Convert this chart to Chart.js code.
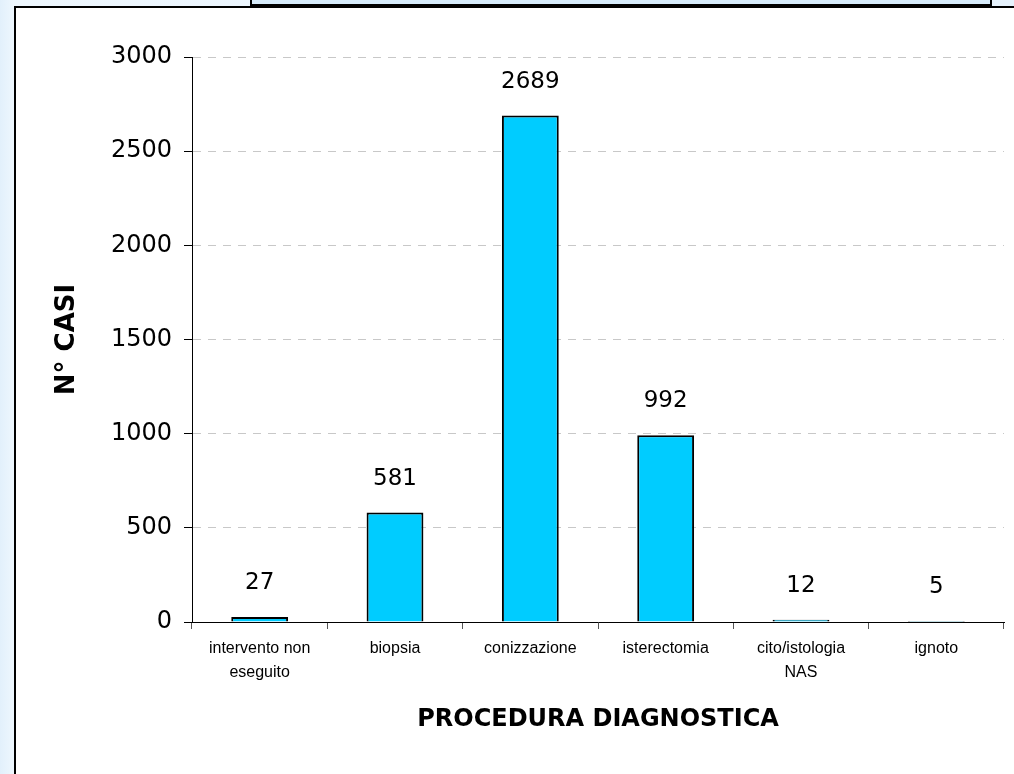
<!DOCTYPE html>
<html>
<head>
<meta charset="utf-8">
<script src="https://cdn.jsdelivr.net/npm/chart.js@4.4.1/dist/chart.umd.min.js"></script>
<style>
  html, body { margin: 0; padding: 0; }
  body { width: 1014px; height: 774px; position: relative; overflow: hidden;
         background: linear-gradient(to right, #e2f0fb, #eef7fe 14px, #e6f2fc); }
  #titlebox { position: absolute; left: 250px; top: -20px; width: 738px; height: 24px;
              border: 2px solid #000; border-top: none; background: #d6ebfa; }
  #panel { position: absolute; left: 14px; top: 6px; width: 1010px; height: 780px;
           border-left: 2px solid #000; border-top: 2px solid #000; background: #fff; }
  #wrap { position: absolute; left: 0; top: 0; width: 1014px; height: 774px; }
</style>
</head>
<body>
<div id="titlebox"></div>
<div id="panel"></div>
<div id="wrap"><canvas id="c" width="1014" height="774"></canvas></div>
<script>
const categories = [["intervento non", "eseguito"], "biopsia", "conizzazione", "isterectomia", ["cito/istologia", "NAS"], "ignoto"];
const casi = [27, 581, 2689, 992, 12, 5];
const yTicks = [0, 500, 1000, 1500, 2000, 2500, 3000];
const yTitle = "N° CASI";
const xTitle = "PROCEDURA DIAGNOSTICA";

const valueLabels = {
  id: 'valueLabels',
  afterDatasetsDraw(chart) {
    const ctx = chart.ctx;
    const meta = chart.getDatasetMeta(0);
    ctx.save();
    ctx.font = '23px "DejaVu Sans"';
    ctx.fillStyle = '#000';
    ctx.textAlign = 'center';
    ctx.textBaseline = 'middle';
    meta.data.forEach((el, i) => {
      ctx.fillText(String(casi[i]), el.x, el.y - 34);
    });
    ctx.restore();
  }
};

new Chart(document.getElementById('c'), {
  type: 'bar',
  data: {
    labels: categories,
    datasets: [{
      data: casi,
      backgroundColor: '#00ccff',
      borderColor: '#000',
      borderWidth: 2,
      borderSkipped: 'bottom',
      barPercentage: 0.42,
      categoryPercentage: 1.0
    }]
  },
  options: {
    responsive: false,
    animation: false,
    devicePixelRatio: 1,
    layout: { padding: { left: 0, right: 10, top: 57, bottom: 0 } },
    plugins: { legend: { display: false }, tooltip: { enabled: false } },
    scales: {
      x: {
        grid: { display: true, drawOnChartArea: false, offset: true, tickLength: 7, color: '#555', tickColor: '#555' },
        border: { display: true, color: '#000', width: 1 },
        ticks: { color: '#000', font: { family: '"Liberation Sans"', size: 16, lineHeight: 1.5 }, padding: 8, maxRotation: 0, autoSkip: false },
        title: { display: true, text: xTitle, color: '#000', font: { family: '"DejaVu Sans"', size: 24, weight: 'bold' }, padding: { top: 0, bottom: 40 } },
        afterFit(s) { s.height = 152; }
      },
      y: {
        min: 0, max: 3000,
        afterBuildTicks(s) { s.ticks = yTicks.map(v => ({ value: v })); },
        grid: { color: '#c8c8c8', tickColor: '#000', tickLength: 8, tickBorderDash: [], lineWidth: 1 },
        border: { display: true, color: '#000', width: 1, dash: [8, 7] },
        ticks: { color: '#000', font: { family: '"DejaVu Sans"', size: 24 }, padding: 12, callback: (v) => String(v) },
        title: { display: true, text: yTitle, color: '#000', font: { family: '"DejaVu Sans"', size: 26, weight: 'bold' }, padding: { top: 52, bottom: 0 } },
        afterFit(s) { s.width = 192; }
      }
    }
  },
  plugins: [valueLabels]
});
</script>
</body>
</html>
